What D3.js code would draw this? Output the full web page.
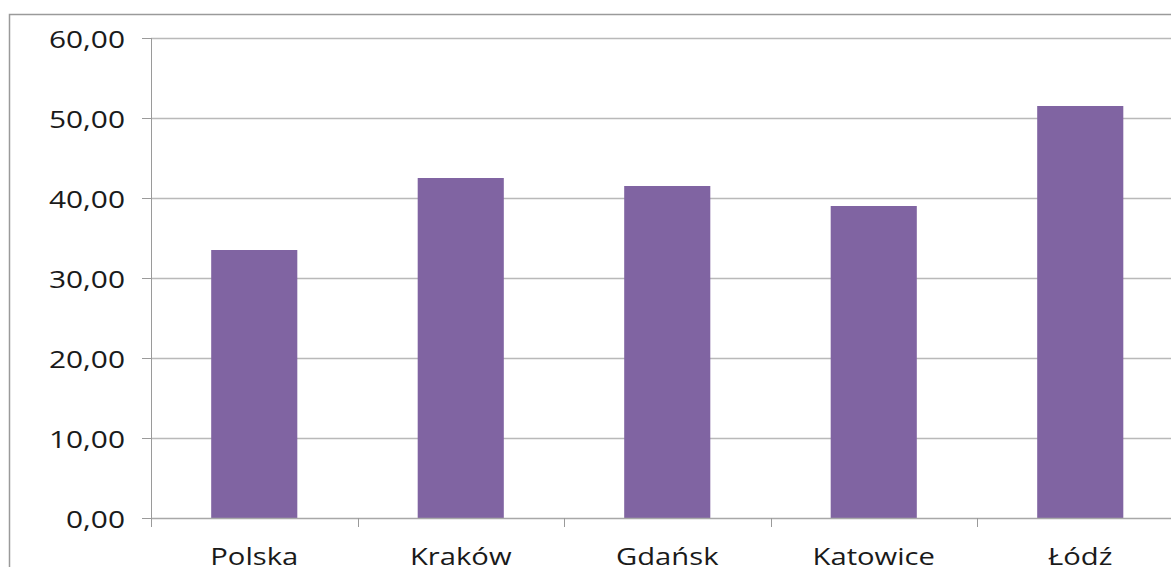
<!DOCTYPE html>
<html><head><meta charset="utf-8">
<script src="https://cdn.jsdelivr.net/npm/d3@7"></script>
<style>body{margin:0;background:#fff}svg{display:block}</style>
</head><body><svg id="c" width="1171" height="567"></svg>
<script>
const categories = ["Polska","Kraków","Gdańsk","Katowice","Łódź"];
const values = [33.5, 42.5, 41.5, 39.0, 51.5];
const yTicks = [0,10,20,30,40,50,60];

(function(){
const svg = d3.select("#c");
const L = 151, R = 1183.5, T = 38, B = 518;
const SX = 1.3;
const FONT = "Open Sans";
const x = d3.scaleBand().domain(categories).range([L, R]).paddingInner(0.583).paddingOuter(0.2915);
const y = d3.scaleLinear().domain([0,60]).range([B, T]);

// outer border
svg.append("rect").attr("x",9.5).attr("y",14.5).attr("width",1200).attr("height",600)
  .attr("fill","none").attr("stroke","#9a9a9a").attr("stroke-width",1.5);

// gridlines
svg.append("g").selectAll("line").data(yTicks.filter(d=>d>0)).join("line")
  .attr("x1",L).attr("x2",1171).attr("y1",d=>Math.round(y(d))+0.5).attr("y2",d=>Math.round(y(d))+0.5)
  .attr("stroke","#b9b9b9").attr("stroke-width",1.3);

// bars
svg.append("g").selectAll("rect").data(values).join("rect")
  .attr("x",(d,i)=>x(categories[i])).attr("width",x.bandwidth())
  .attr("y",d=>y(d)).attr("height",d=>y(0)-y(d)).attr("fill","#8064a2");

// y axis
const fmt = d => d.toFixed(2).replace(".",",");
const ya = svg.append("g").attr("transform",`translate(${L},0)`)
  .call(d3.axisLeft(y).tickValues(yTicks).tickFormat(fmt).tickSize(9).tickPadding(26));
ya.select(".domain").attr("stroke","#9a9a9a").attr("d",`M0.5,${T}V${B}`);
ya.selectAll(".tick line").attr("stroke","#9a9a9a");
ya.selectAll("text").attr("font-family",FONT).attr("font-size",23).attr("fill","#1a1a1a")
  .attr("x",0).attr("dy","0.36em").attr("transform",`translate(-26,1) scale(${SX},1)`);

// x axis
const xa = svg.append("g").attr("transform",`translate(0,${B})`);
xa.append("line").attr("x1",L).attr("x2",1171).attr("y1",0.5).attr("y2",0.5).attr("stroke","#a8a8a8").attr("stroke-width",1.3);
const bounds = d3.range(categories.length+1).map(i => L + i*x.step());
xa.selectAll(".tk").data(bounds).join("line").attr("class","tk")
  .attr("x1",d=>Math.round(d)+0.5).attr("x2",d=>Math.round(d)+0.5).attr("y1",0).attr("y2",9).attr("stroke","#9a9a9a");
xa.selectAll(".lb").data(categories).join("text").attr("class","lb")
  .attr("text-anchor","middle")
  .attr("transform",d=>`translate(${x(d)+x.bandwidth()/2},47) scale(1.27,1)`)
  .attr("font-family",FONT).attr("font-size",23).attr("fill","#1a1a1a")
  .text(d=>d);
})();
</script></body></html>
